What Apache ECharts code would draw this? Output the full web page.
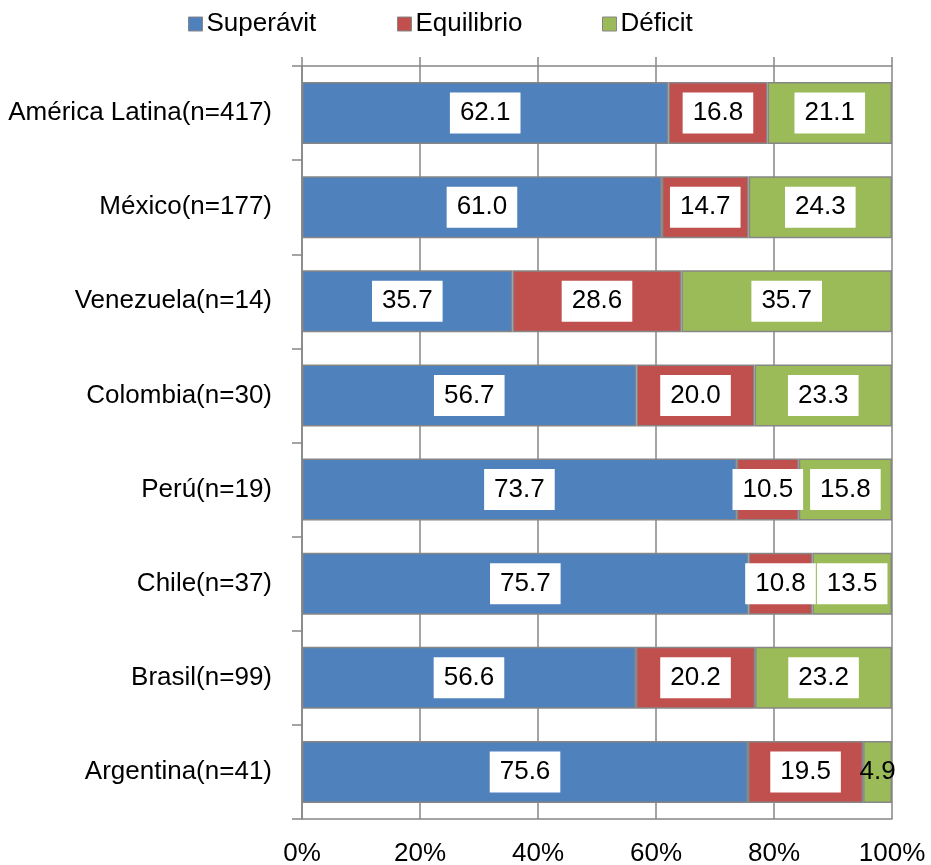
<!DOCTYPE html>
<html>
<head>
<meta charset="utf-8">
<script src="https://cdn.jsdelivr.net/npm/echarts@6/dist/echarts.min.js"></script>
<style>html,body{margin:0;padding:0;background:#fff}#c{width:931px;height:865px}</style>
</head>
<body>
<div id="c"></div>
<script>
const categories = ['América Latina(n=417)', 'México(n=177)', 'Venezuela(n=14)', 'Colombia(n=30)', 'Perú(n=19)', 'Chile(n=37)', 'Brasil(n=99)', 'Argentina(n=41)'];
const superavit = [62.1, 61.0, 35.7, 56.7, 73.7, 75.7, 56.6, 75.6];
const equilibrio = [16.8, 14.7, 28.6, 20.0, 10.5, 10.8, 20.2, 19.5];
const deficit = [21.1, 24.3, 35.7, 23.3, 15.8, 13.5, 23.2, 4.9];
const xTicks = [0, 20, 40, 60, 80, 100];

const FONT = '"Liberation Sans", Arial, sans-serif';
const FS = 26;
const GREY = '#868686';

const boxLabel = {
  show: true, position: 'inside', color: '#000', fontFamily: FONT, fontSize: FS,
  backgroundColor: '#fff', padding: [7, 10, 6, 10], lineHeight: 28,
  formatter: p => p.value.toFixed(1)
};

function mk(name, data, color) {
  return {
    name, type: 'bar', stack: 'all', barWidth: 62, data: data.map((v, i) => {
      const d = { value: v };
      if (v < 6) d.label = { backgroundColor: 'transparent', padding: 0 };
      return d;
    }),
    itemStyle: { color, borderColor: GREY, borderWidth: 1.5 },
    label: boxLabel, emphasis: { disabled: true }
  };
}

const legendBase = { itemWidth: 14, itemHeight: 14, itemGap: 0, top: 6, icon: 'rect',
  textStyle: { fontFamily: FONT, fontSize: FS, color: '#000', padding: [0, 0, 0, -1] },
  itemStyle: { borderColor: GREY, borderWidth: 1 } };

const chart = echarts.init(document.getElementById('c'), null, { renderer: 'canvas' });
chart.setOption({
  animation: false,
  legend: [
    Object.assign({}, legendBase, { left: 183, data: ['Superávit'] }),
    Object.assign({}, legendBase, { left: 392, data: ['Equilibrio'] }),
    Object.assign({}, legendBase, { left: 597, data: ['Déficit'] })
  ],
  grid: { left: 302, right: 39, top: 66, bottom: 46, containLabel: false, outerBoundsMode: 'none' },
  xAxis: [{
    type: 'value', min: 0, max: 100, interval: 20, position: 'bottom',
    axisLine: { show: true, lineStyle: { color: GREY, width: 1.5 } },
    axisTick: { show: false },
    splitLine: { show: true, lineStyle: { color: GREY, width: 1.5 } },
    axisLabel: { margin: 22, color: '#000', fontFamily: FONT, fontSize: FS,
      formatter: v => xTicks.includes(v) ? v + '%' : '' }
  }, {
    type: 'value', min: 0, max: 100, interval: 20, position: 'top',
    axisLine: { show: true, lineStyle: { color: GREY, width: 1.5 } },
    axisTick: { show: true, inside: false, length: 9, lineStyle: { color: GREY, width: 1.5 } },
    splitLine: { show: false }, axisLabel: { show: false }
  }],
  yAxis: {
    type: 'category', data: categories, inverse: true,
    axisLine: { show: true, lineStyle: { color: GREY, width: 1.5 } },
    axisTick: { show: true, length: 10, lineStyle: { color: GREY, width: 1.5 } },
    axisLabel: { margin: 30, color: '#000', fontFamily: FONT, fontSize: FS }
  },
  series: [
    mk('Superávit', superavit, '#4F81BD'),
    mk('Equilibrio', equilibrio, '#C0504D'),
    mk('Déficit', deficit, '#9BBB59')
  ]
});
</script>
</body>
</html>
